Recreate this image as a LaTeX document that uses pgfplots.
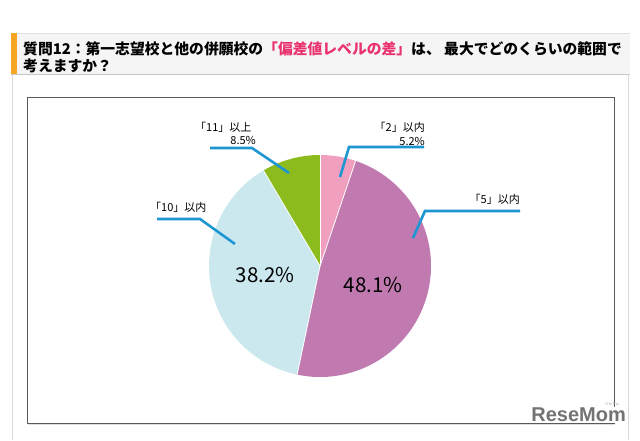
\documentclass[border=0pt]{standalone}
\usepackage{fontspec}
\setmainfont{Noto Sans CJK JP}
\newfontfamily\logofont{Liberation Sans}
\usepackage{pgfplots}
\pgfplotsset{compat=1.18}

\definecolor{cTwo}{HTML}{F0A0BE}
\definecolor{cFive}{HTML}{C07AB0}
\definecolor{cTen}{HTML}{CCE8EF}
\definecolor{cEleven}{HTML}{8CBB1E}
\definecolor{lead}{HTML}{1E96D2}
\definecolor{titlepink}{HTML}{E9326E}
\definecolor{barorange}{HTML}{F5A623}

% shares (%), clockwise from 12 o'clock
\def\vTwo{5.2}
\def\vFive{48.1}
\def\vTen{38.2}
\def\vEleven{8.5}
\pgfmathsetmacro\aA{90}
\pgfmathsetmacro\aB{\aA-3.6*\vTwo}
\pgfmathsetmacro\aC{\aB-3.6*\vFive}
\pgfmathsetmacro\aD{\aC-3.6*\vTen}
\pgfmathsetmacro\aE{\aD-3.6*\vEleven}

\begin{document}
\begin{tikzpicture}
\begin{axis}[
    x=1pt, y=1pt,
    xmin=0, xmax=640, ymin=0, ymax=440,
    hide axis, clip=false,
]
% background
\fill[white] (axis cs:0,0) rectangle (axis cs:640,440);

% title band
\fill[black!4] (axis cs:11,366) rectangle (axis cs:630,407);
\draw[black!12] (axis cs:11,407) -- (axis cs:630,407);
\draw[black!22] (axis cs:11,366) -- (axis cs:630,366);
\fill[barorange] (axis cs:11,366) rectangle (axis cs:17,407);
\node[anchor=west, font=\fontsize{14.8}{16}\selectfont\bfseries, inner sep=0pt]
  at (axis cs:23,391) {質問12：第一志望校と他の併願校の{\color{titlepink}「偏差値レベルの差」}は、 最大でどのくらいの範囲で};
\node[anchor=west, font=\fontsize{14.8}{16}\selectfont\bfseries, inner sep=0pt]
  at (axis cs:23,374) {考えますか？};

% outer panel
\draw[black!15] (axis cs:12,366) -- (axis cs:12,0);
\draw[black!15] (axis cs:628,366) -- (axis cs:628,0);

% chart box
\draw[black!12, line width=1pt] (axis cs:28,16) -- (axis cs:615,16);
\draw[black!65, line width=1pt] (axis cs:27,17) rectangle (axis cs:614,343);

% pie
\fill[cTwo]    (axis cs:320,174) -- ++(\aA:111pt) arc[start angle=\aA, end angle=\aB, radius=111pt] -- cycle;
\fill[cFive]   (axis cs:320,174) -- ++(\aB:111pt) arc[start angle=\aB, end angle=\aC, radius=111pt] -- cycle;
\fill[cTen]    (axis cs:320,174) -- ++(\aC:111pt) arc[start angle=\aC, end angle=\aD, radius=111pt] -- cycle;
\fill[cEleven] (axis cs:320,174) -- ++(\aD:111pt) arc[start angle=\aD, end angle=\aE, radius=111pt] -- cycle;
\draw[white, line width=0.8pt] (axis cs:320,174) -- ++(\aA:111pt);
\draw[white, line width=0.8pt] (axis cs:320,174) -- ++(\aB:111pt);
\draw[white, line width=0.8pt] (axis cs:320,174) -- ++(\aC:111pt);
\draw[white, line width=0.8pt] (axis cs:320,174) -- ++(\aD:111pt);

\node[font=\fontsize{20.5}{22}\selectfont] at (axis cs:265,165) {38.2\%};
\node[font=\fontsize{20.5}{22}\selectfont] at (axis cs:373,155) {48.1\%};

% leader lines
\draw[lead, line width=2.6pt] (axis cs:340,263) -- (axis cs:349,293) -- (axis cs:424,293);
\draw[lead, line width=2.6pt] (axis cs:413,202) -- (axis cs:425,229) -- (axis cs:520,229);
\draw[lead, line width=2.6pt] (axis cs:289,267) -- (axis cs:252,292) -- (axis cs:210,292);
\draw[lead, line width=2.6pt] (axis cs:235,196) -- (axis cs:200,221) -- (axis cs:157,221);

% labels
\node[anchor=east, inner sep=0pt, font=\fontsize{11}{12}\selectfont] at (axis cs:425,313) {「2」以内};
\node[anchor=east, inner sep=0pt, font=\fontsize{11}{12}\selectfont] at (axis cs:425,299) {5.2\%};
\node[anchor=east, inner sep=0pt, font=\fontsize{11}{12}\selectfont] at (axis cs:520,241) {「5」以内};
\node[anchor=west, inner sep=0pt, font=\fontsize{11}{12}\selectfont] at (axis cs:195,313) {「11」以上};
\node[anchor=east, inner sep=0pt, font=\fontsize{11}{12}\selectfont] at (axis cs:256,300) {8.5\%};
\node[anchor=west, inner sep=0pt, font=\fontsize{11}{12}\selectfont] at (axis cs:150,233) {「10」以内};

% logo
\node[anchor=east, fill=white, inner sep=1pt, text=black!55,
      font=\logofont\bfseries\fontsize{20}{21}\selectfont] at (axis cs:627,25) {ReseMom};
\node[anchor=south, inner sep=0pt, text=black!45, font=\fontsize{3.5}{4}\selectfont] at (axis cs:612,34) {リセマム};
\end{axis}
\end{tikzpicture}
\end{document}
